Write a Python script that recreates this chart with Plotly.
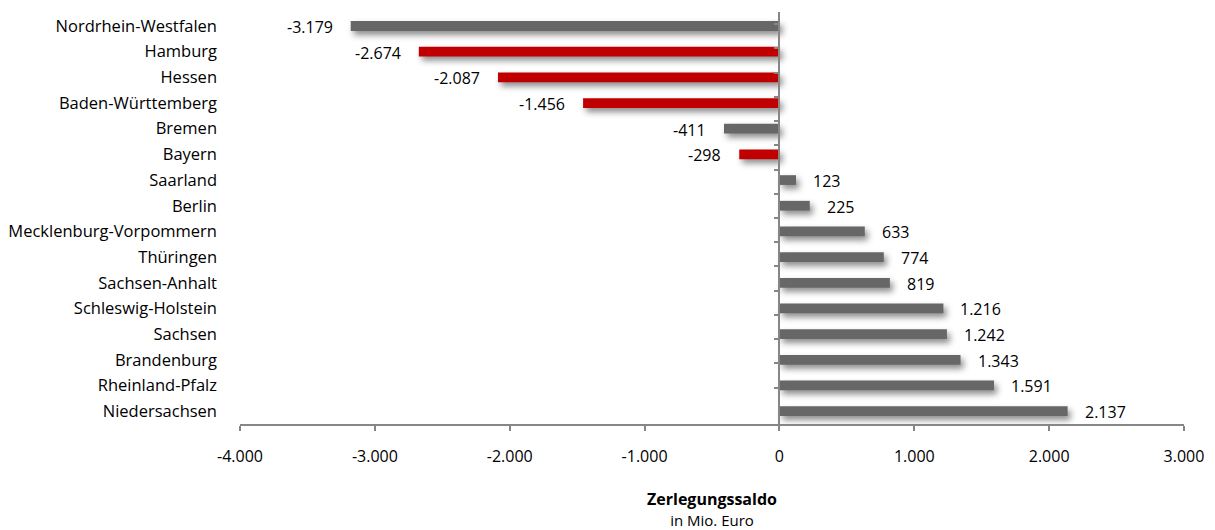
import plotly.graph_objects as go

# Zerlegungssaldo je Bundesland, in Mio. Euro
states = [
    "Nordrhein-Westfalen", "Hamburg", "Hessen", "Baden-Württemberg", "Bremen",
    "Bayern", "Saarland", "Berlin", "Mecklenburg-Vorpommern", "Thüringen",
    "Sachsen-Anhalt", "Schleswig-Holstein", "Sachsen", "Brandenburg",
    "Rheinland-Pfalz", "Niedersachsen",
]
saldo = [-3179, -2674, -2087, -1456, -411, -298, 123, 225, 633, 774,
         819, 1216, 1242, 1343, 1591, 2137]
highlighted = {"Hamburg", "Hessen", "Baden-Württemberg", "Bayern"}

x_ticks = [-4000, -3000, -2000, -1000, 0, 1000, 2000, 3000]
x_range = [-4000, 3000]

GRAY = "#676767"
RED = "#C00000"
AXIS = "#868686"
FONT = "Open Sans"


def de_num(v):
    s = f"{abs(v):,}".replace(",", ".")
    return ("-" if v < 0 else "") + s


colors = [RED if s in highlighted else GRAY for s in states]

fig = go.Figure()
fig.add_trace(go.Bar(
    x=saldo, y=states, orientation="h",
    marker=dict(color=colors, line=dict(width=0)),
    width=0.38, hoverinfo="x+y", showlegend=False,
))
# invisible trace that carries the category axis drawn at x = 0
fig.add_trace(go.Scatter(
    x=[0] * len(states), y=states, yaxis="y2", mode="markers",
    marker=dict(opacity=0), hoverinfo="skip", showlegend=False,
))

for s, v in zip(states, saldo):
    fig.add_annotation(
        x=v, y=s, text=de_num(v), showarrow=False,
        xanchor="left" if v > 0 else "right",
        xshift=15 if v > 0 else -16, yshift=-1,
        font=dict(family=FONT, size=16, color="#000000"),
    )

fig.update_layout(
    width=1215, height=530,
    margin=dict(l=240, r=31, t=12, b=106, autoexpand=False),
    paper_bgcolor="white", plot_bgcolor="white",
    font=dict(family=FONT, size=16, color="#000000"),
    xaxis=dict(
        range=x_range, tickvals=x_ticks, ticktext=[de_num(t) for t in x_ticks],
        showgrid=False, zeroline=False, showline=True, linecolor=AXIS,
        linewidth=1.5, ticks="outside", ticklen=5, tickcolor=AXIS, tickwidth=1.5,
        tickfont=dict(size=16), ticklabelstandoff=12, automargin=False,
        title=dict(
            text="<b>Zerlegungssaldo</b><br><span style='font-size:15px'>in Mio. Euro</span>",
            font=dict(size=16), standoff=33,
        ),
    ),
    yaxis=dict(
        type="category", categoryorder="array", categoryarray=states,
        autorange="reversed", showgrid=False, zeroline=False, showline=False,
        ticks="", ticklabelstandoff=22, tickfont=dict(size=16.5),
        automargin=False,
    ),
    yaxis2=dict(
        type="category", categoryorder="array", categoryarray=states,
        autorange="reversed", overlaying="y", anchor="free",
        position=(0 - x_range[0]) / (x_range[1] - x_range[0]),
        showgrid=False, zeroline=False, showline=True, linecolor=AXIS,
        linewidth=1.5, showticklabels=False, ticks="outside", ticklen=5,
        tickcolor=AXIS, tickwidth=1.5, tickson="boundaries", automargin=False,
    ),
)

shadow_css = """
var st = document.createElement('style');
st.textContent = '.barlayer .point path{filter:drop-shadow(3px 4px 3px rgba(0,0,0,0.45));}';
document.head.appendChild(st);
"""

fig.write_html("out.html", post_script=shadow_css)
